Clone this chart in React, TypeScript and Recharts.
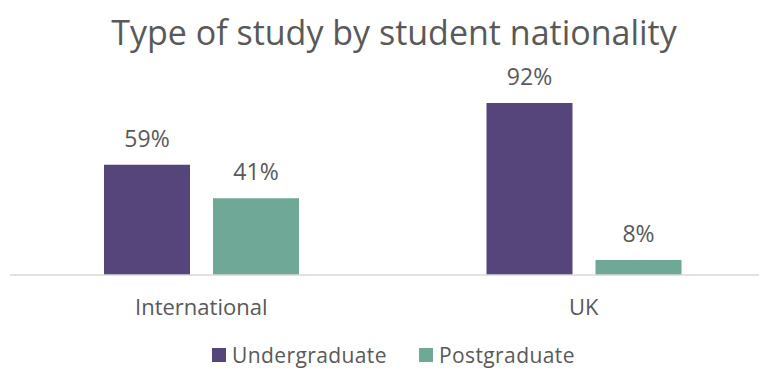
import React from "react";
import { BarChart, Bar, XAxis, YAxis, LabelList } from "recharts";

const categories = ["International", "UK"];
const undergraduate = [59, 92];
const postgraduate = [41, 8];
const seriesNames = ["Undergraduate", "Postgraduate"];
const seriesColors = ["#56457A", "#6FA897"];
const title = "Type of study by student nationality";

const data = categories.map((c, i) => ({
  name: c,
  Undergraduate: undergraduate[i],
  Postgraduate: postgraduate[i],
}));

const FONT = "'Open Sans', Roboto, sans-serif";
const TEXT = "#595959";

export default function App() {
  return (
    <div style={{ position: "relative", width: 759, height: 363, fontFamily: FONT }}>
      <div
        style={{
          position: "absolute",
          top: 4,
          left: 0,
          width: 772,
          textAlign: "center",
          fontSize: 34,
          color: TEXT,
          lineHeight: "40px",
        }}
      >
        {title}
      </div>
      <BarChart
        width={759}
        height={363}
        data={data}
        margin={{ top: 80, right: 0, left: 2, bottom: 56 }}
        barSize={86}
        barGap={23}
      >
        <XAxis
          dataKey="name"
          height={40}
          tickLine={false}
          axisLine={{ stroke: "#D9D9D9", strokeWidth: 1.5 }}
          tick={{ fill: TEXT, fontSize: 22, fontFamily: FONT }}
          tickMargin={18}
          padding={{ left: 0, right: -8 }}
        />
        <YAxis hide domain={[0, 100]} />
        <Bar dataKey="Undergraduate" fill={seriesColors[0]} isAnimationActive={false}>
          <LabelList
            dataKey="Undergraduate"
            position="top"
            offset={18}
            formatter={(v: number) => `${v}%`}
            style={{ fill: TEXT, fontSize: 23, fontFamily: FONT }}
          />
        </Bar>
        <Bar dataKey="Postgraduate" fill={seriesColors[1]} isAnimationActive={false}>
          <LabelList
            dataKey="Postgraduate"
            position="top"
            offset={18}
            formatter={(v: number) => `${v}%`}
            style={{ fill: TEXT, fontSize: 23, fontFamily: FONT }}
          />
        </Bar>
      </BarChart>
      <div
        style={{
          position: "absolute",
          top: 335,
          left: 204,
          display: "flex",
          alignItems: "center",
          fontSize: 21,
          letterSpacing: 0.4,
          color: TEXT,
          lineHeight: "24px",
        }}
      >
        {seriesNames.map((n, i) => (
          <div key={n} style={{ display: "flex", alignItems: "center", marginRight: 32 }}>
            <span
              style={{
                display: "inline-block",
                width: 14,
                height: 14,
                background: seriesColors[i],
                marginRight: 6,
              }}
            />
            <span>{n}</span>
          </div>
        ))}
      </div>
    </div>
  );
}
